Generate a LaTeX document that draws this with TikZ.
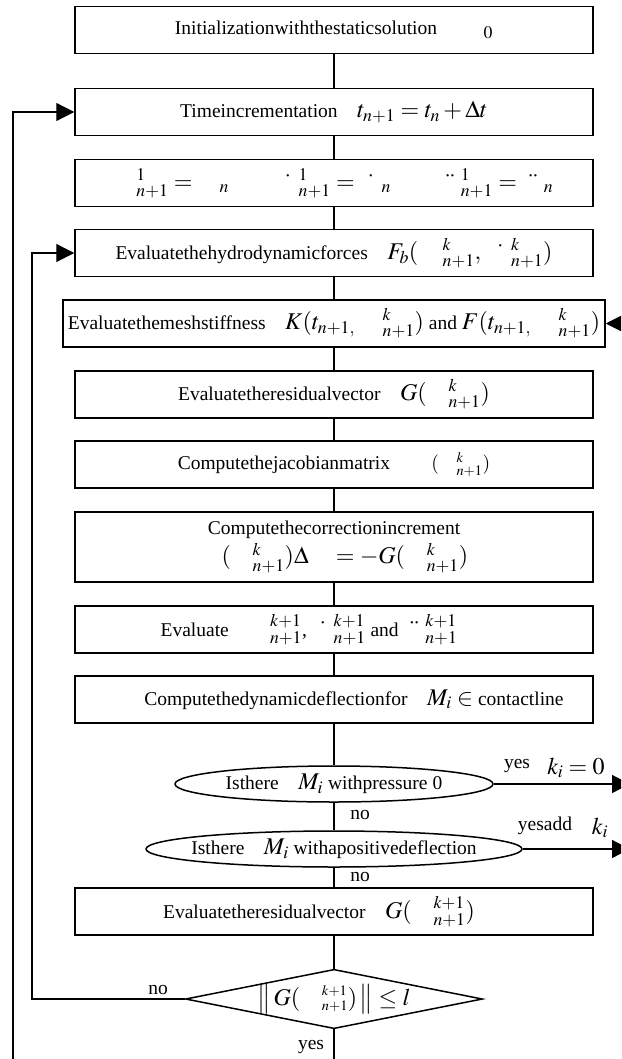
\documentclass[tikz,border=0pt]{standalone}
\usepackage{mathptmx}
\usepackage{fontspec}
\setmainfont{Liberation Serif}
\usetikzlibrary{arrows.meta, shapes.geometric}

\newcommand{\mt}[1]{{\fontsize{24}{28}\selectfont$#1$}}
\newcommand{\gap}{\hphantom{W}}

\begin{document}
\begin{tikzpicture}[x=1pt, y=-1pt, every text node part/.style={align=center},
  font=\fontsize{19.5}{24}\selectfont]

\tikzstyle{box}=[draw, line width=1.5pt, minimum width=518pt, minimum height=47pt, inner sep=2pt]
\tikzstyle{oval}=[draw, ellipse, line width=1.5pt, minimum height=36pt, inner sep=0pt]
\tikzstyle{test}=[draw, diamond, line width=1.5pt, aspect=5, minimum width=293pt, minimum height=58pt, inner sep=0pt]
\tikzstyle{edge}=[draw, line width=1.2pt]
\tikzstyle{arr}=[draw, line width=1.2pt, -{Triangle[length=18pt, width=18pt]}]

\useasboundingbox (0,0) rectangle (621,1059);
\clip (0,0) rectangle (621,1059);

\node [box] (init)   at (334, 30)    {Initializationwiththestaticsolution\quad\;\mt{\gap_{0}}};
\node [box] (time)   at (334, 112)   {Timeincrementation\quad\mt{t_{n+1}=t_{n}+\Delta t}};
\node [box] (guess)  at (334, 183)   {\mt{\gap^{1}_{n+1}=\gap_{n}\qquad\dot{\gap}^{1}_{n+1}=\dot{\gap}_{n}\qquad\ddot{\gap}^{1}_{n+1}=\ddot{\gap}_{n}}};
\node [box] (hydro)  at (334, 253)   {Evaluatethehydrodynamicforces\quad\mt{F_{b}(\,\gap^{k}_{n+1},\;\dot{\gap}^{k}_{n+1})}};
\node [box, minimum width=542pt, inner sep=1pt] (mesh) at (334, 323.5)
  {Evaluatethemeshstiffness\quad\mt{K(t_{n+1,}\ \gap^{k}_{n+1})} and \mt{F(t_{n+1,}\ \gap^{k}_{n+1})}};
\node [box] (resid)  at (334, 394.5) {Evaluatetheresidualvector\quad\mt{G(\gap^{k}_{n+1})}};
\node [box] (jacob)  at (334, 464.5) {Computethejacobianmatrix\quad\mt{\gap}$(\gap^{k}_{n+1})$};
\node [box, minimum height=70pt] (corr) at (334, 547)
  {Computethecorrectionincrement\\[3pt]\mt{\gap(\gap^{k}_{n+1})\Delta\gap=-G(\gap^{k}_{n+1})}};
\node [box] (update) at (334, 629.5) {Evaluate\quad\mt{\gap^{k+1}_{n+1}}, \mt{\dot{\gap}^{k+1}_{n+1}} and \mt{\ddot{\gap}^{k+1}_{n+1}}\hspace*{50pt}};
\node [box] (defl)   at (334, 699.5) {\hspace*{40pt}Computethedynamicdeflectionfor\quad\mt{M_{i}\in} contactline};

\node [oval, minimum width=318pt] (zero) at (334, 784) {\makebox[0pt]{Isthere\quad\mt{M_{i}} withpressure 0}};
\node [oval, minimum width=376pt] (pos)  at (334, 849) {\makebox[0pt]{Isthere\quad\mt{M_{i}} withapositivedeflection}};
\node [box] (resid2) at (334, 911.5) {Evaluatetheresidualvector\quad\mt{G(\gap^{k+1}_{n+1})}\hspace*{30pt}};
\node [test] (conv)  at (334, 999)   {\mt{\left\|\,G(\gap^{\scriptscriptstyle k+1}_{\scriptscriptstyle n+1})\,\right\|\le l}};

\node (nozero)  at (360, 815)  {no};
\node (nopos)   at (360, 877)  {no};
\node (noconv)  at (158, 990)  {no};
\node (yesconv) at (311, 1047) {yes};
\node (yeszero) at (517, 766)  {yes};
\node (kzero)   at (576, 768)  {\mt{k_{i}=0}};
\node (yespos)  at (545, 826)  {yesadd};
\node (kpos)    at (600, 828)  {\mt{k_{i}}};

\coordinate (meshin)  at (640, 323.5);
\coordinate (outzero) at (630, 784);
\coordinate (outpos)  at (630, 849);
\coordinate (inner)   at (32, 999);
\coordinate (outer)   at (13, 1070);
\coordinate (bottom)  at (334, 1070);

\path [edge] (init) -- (time);
\path [edge] (time) -- (guess);
\path [edge] (guess) -- (hydro);
\path [edge] (hydro) -- (mesh);
\path [edge] (mesh) -- (resid);
\path [edge] (resid) -- (jacob);
\path [edge] (jacob) -- (corr);
\path [edge] (corr) -- (update);
\path [edge] (update) -- (defl);
\path [edge] (defl) -- (zero);
\path [edge] (zero) -- (pos);
\path [edge] (pos) -- (resid2);
\path [edge] (resid2) -- (conv);
\path [edge] (conv) -- (bottom);

\path [arr] (meshin) -- (mesh);
\path [arr] (zero) -- (outzero);
\path [arr] (pos) -- (outpos);
\path [arr] (conv) -- (inner) |- (hydro);
\path [arr] (outer) |- (time);

\end{tikzpicture}
\end{document}
